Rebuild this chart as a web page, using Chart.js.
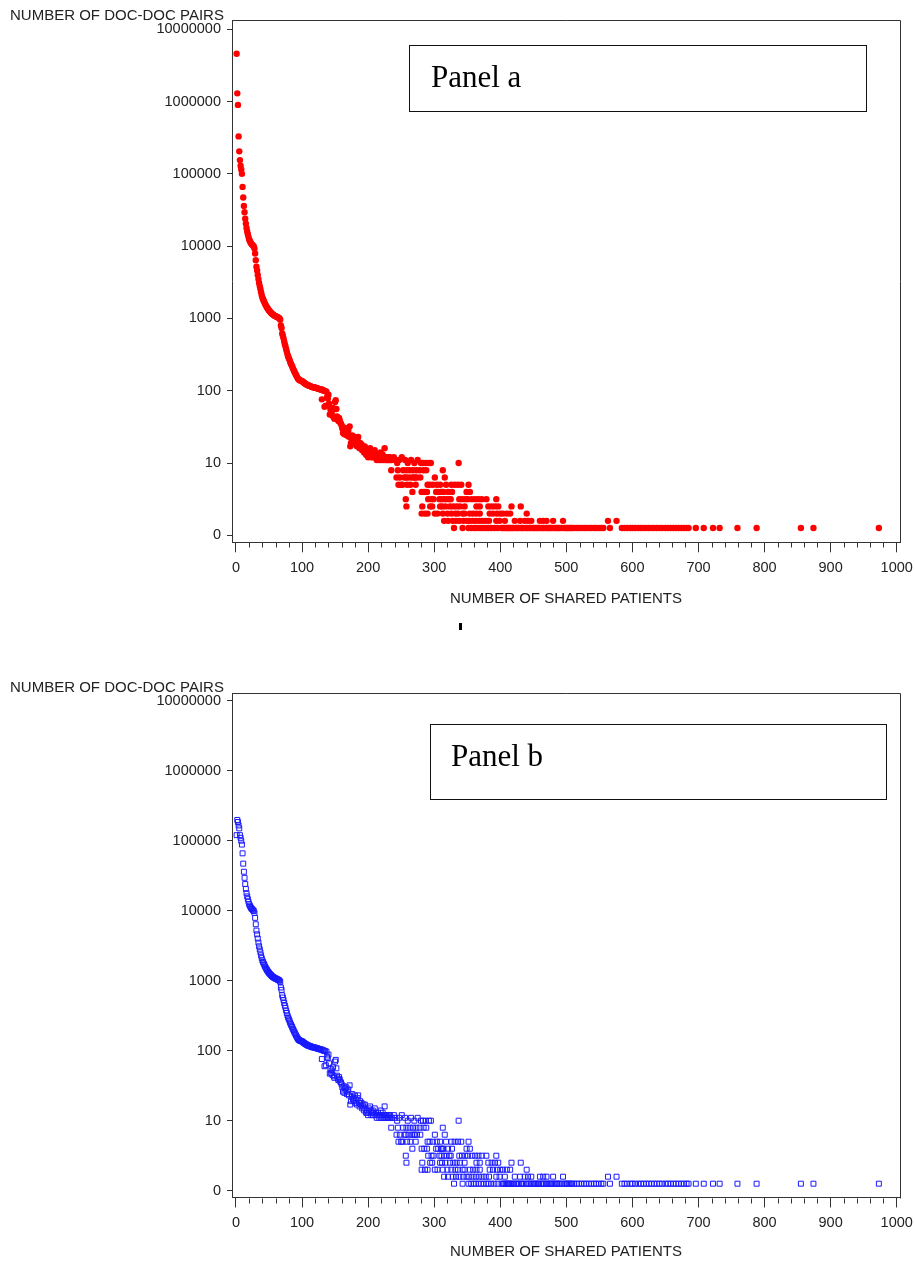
<!DOCTYPE html>
<html>
<head>
<meta charset="utf-8">
<script src="https://cdn.jsdelivr.net/npm/chart.js@4.4.1/dist/chart.umd.min.js"></script>
<style>
html,body{margin:0;padding:0;background:#fff;}
body{width:915px;height:1265px;position:relative;overflow:hidden;}
canvas{position:absolute;left:0;}
.box{position:absolute;border:1.5px solid #111;box-sizing:border-box;}
.lbl{position:absolute;font-family:"Liberation Serif","Times New Roman",serif;font-size:31px;line-height:31px;color:#000;white-space:nowrap;}
.mark{position:absolute;background:#000;}
</style>
</head>
<body>
<canvas id="chartA" width="915" height="612" style="top:0px"></canvas>
<canvas id="chartB" width="915" height="593" style="top:672px"></canvas>
<div class="box" style="left:409px;top:45px;width:458px;height:67px;"></div>
<div class="lbl" style="left:431px;top:61px;">Panel a</div>
<div class="box" style="left:430px;top:724px;width:457px;height:76px;"></div>
<div class="lbl" style="left:451px;top:740px;">Panel b</div>
<div class="mark" style="left:459px;top:623px;width:3px;height:7px;"></div>
<script>
// ---------------- data ----------------
const yAxisTitle = 'NUMBER OF DOC-DOC PAIRS';
const xAxisTitle = 'NUMBER OF SHARED PATIENTS';
const yTickLabels = ['0', '10', '100', '1000', '10000', '100000', '1000000', '10000000'];
const xTickValues = [0, 100, 200, 300, 400, 500, 600, 700, 800, 900, 1000];

// first shared-patient counts differ between the two panels
const headX = [1, 2, 3, 4, 5, 6, 7, 8, 9];
const headPairsA = [4600000, 1300000, 900000, 330000, 205000, 155000, 130000, 115000, 100000];
const headPairsB = [120000, 198000, 185000, 165000, 150000, 120000, 110000, 100000, 88000];

// main curve (shared by both panels)
const bodyX = [
  10, 11, 12, 13, 14, 15, 16, 17, 18, 19,
  20, 21, 22, 23, 24, 25, 26, 27, 28, 29,
  30, 31, 32, 33, 34, 35, 36, 37, 38, 39,
  40, 41, 42, 43, 44, 45, 46, 47, 48, 49,
  50, 51, 52, 53, 54, 55, 56, 57, 58, 59,
  60, 61, 62, 63, 64, 65, 66, 67, 68, 69,
  70, 71, 72, 73, 74, 75, 76, 77, 78, 79,
  80, 81, 82, 83, 84, 85, 86, 87, 88, 89,
  90, 91, 92, 93, 94, 95, 96, 97, 98, 99,
  100, 101, 102, 103, 104, 105, 106, 107, 108, 109,
  110, 111, 112, 113, 114, 115, 116, 117, 118, 119,
  120, 121, 122, 123, 124, 125, 126, 127, 128, 129,
  130, 131, 132, 133, 134, 135, 136, 137, 138, 139,
  140, 141, 142, 143, 144, 145, 146, 147, 148, 149,
  150, 151, 152, 153, 154, 155, 156, 157, 158, 159,
  160, 161, 162, 163, 164, 165, 166, 167, 168, 169,
  170, 171, 172, 173, 174, 175, 176, 177, 178, 179,
  180, 181, 182, 183, 184, 185, 186, 187, 188, 189,
  190, 191, 192, 193, 194, 195, 196, 197, 198, 199,
  200, 201, 202, 203, 204, 205, 206, 207, 208, 209,
  210, 211, 212, 213, 214, 215, 216, 217, 218, 219,
  220, 221, 222, 223, 224, 225, 226, 227, 228, 229,
  230, 231, 232, 233, 234
];
const bodyPairs = [
  66000, 47000, 36000, 29500, 24000, 20500, 17800, 16000, 14600, 13400,
  12400, 11800, 11300, 10900, 10600, 10400, 10100, 9900, 9300, 7900,
  6400, 5200, 4600, 4000, 3500, 3100, 2800, 2550, 2300, 2100,
  1950, 1850, 1760, 1680, 1600, 1530, 1470, 1420, 1370, 1330,
  1290, 1260, 1230, 1200, 1175, 1150, 1130, 1115, 1100, 1085,
  1075, 1065, 1050, 1040, 1030, 1015, 1000, 960, 800, 740,
  620, 575, 530, 480, 440, 410, 375, 345, 318, 298,
  282, 268, 252, 238, 228, 218, 206, 197, 188, 180,
  172, 165, 158, 152, 147, 143, 141, 139, 138, 137,
  136, 133, 131, 129, 127, 125, 123, 122, 120, 119,
  118, 117, 116, 115, 114, 113, 112, 112, 111, 111,
  110, 109, 109, 108, 107, 106, 106, 105, 104, 104,
  76, 103, 101, 100, 60, 99, 62, 97, 82, 78,
  88, 66, 47, 55, 48, 52, 45, 58, 43, 41,
  70, 74, 56, 44, 40, 38, 42, 39, 36, 35,
  33, 30, 26, 31, 25, 29, 27, 30, 24, 26,
  28, 23, 32, 17, 19, 22, 24, 20, 21, 19,
  23, 18, 20, 17, 21, 23, 18, 16, 19, 17,
  18, 15, 16, 17, 14, 17, 15, 13, 13, 14,
  12, 15, 13, 16, 14, 12, 13, 14, 12, 13,
  15, 12, 13, 11, 12, 13, 12, 11, 12, 14,
  11, 12, 13, 11, 12, 16, 11, 12, 11, 12,
  11, 12, 11, 12, 11
];
// band of 10-12 pairs
const bandX = [236, 239, 241, 244, 247, 251, 256, 260, 265, 270, 275, 280, 283, 287, 292, 295, 337];
const bandPairs = [11, 12, 11, 10, 11, 12, 11, 10, 11, 10, 11, 10, 10, 10, 10, 10, 10];

// tail: shared-patient counts observed with exactly N pairs
const pairs9X = [235, 245, 253, 258, 263, 268, 273, 278, 284, 288, 313];
const pairs8X = [243, 248, 255, 257, 261, 266, 269, 271, 274, 279, 301, 316];
const pairs7X = [246, 250, 252, 259, 264, 272, 290, 293, 298, 304, 309, 318, 326, 331, 336, 341, 352];
const pairs6X = [267, 281, 285, 289, 303, 306, 310, 312, 314, 321, 327, 349, 354];
const pairs5X = [257, 291, 296, 299, 308, 311, 315, 319, 323, 325, 338, 342, 347, 351, 357, 362, 367, 372, 379, 394];
const pairs4X = [258, 282, 294, 297, 309, 312, 317, 324, 329, 334, 339, 346, 364, 369, 382, 387, 392, 397, 417, 431];
const pairs3X = [281, 286, 290, 301, 305, 313, 320, 326, 332, 336, 343, 346, 354, 359, 364, 369, 384, 389, 395, 400, 404, 410, 415, 440];
const pairs2X = [315, 321, 328, 333, 338, 344, 349, 353, 358, 363, 368, 373, 378, 383, 394, 399, 407, 422, 430, 437, 442, 447, 460, 465, 470, 480, 495, 563, 576];
const pairs1X = [
  330, 343, 352, 356, 360, 363, 367, 371, 375, 379, 382, 386, 391, 396,
  402, 404, 406, 408, 410, 412, 413, 415, 417, 419, 421, 424, 426, 428, 431, 433, 435, 439,
  441, 444, 446, 449, 451, 453, 455, 457, 459, 462, 464, 466, 469, 471, 473, 475, 477, 479,
  482, 484, 486, 488, 490, 493, 497, 499, 501, 503, 505, 507, 509, 512, 516, 519, 523, 527,
  530, 534, 538, 542, 545, 549, 553, 556, 566,
  584, 588, 592, 597, 600, 604, 609, 613, 617, 621, 625, 629, 633, 637, 641, 645, 650, 654,
  658, 662, 666, 670, 674, 678, 682, 685,
  696, 708, 722, 732, 759, 788, 855, 874, 973
];

// ---------------- helpers ----------------
// SAS-style axis: linear from 0 to 10, logarithmic above
function toAxis(v) { return v <= 10 ? v / 10 : Math.log10(v); }

function buildPoints(headPairs) {
  const pts = [];
  headX.forEach((x, i) => pts.push({x: x, y: toAxis(headPairs[i])}));
  bodyX.forEach((x, i) => pts.push({x: x, y: toAxis(bodyPairs[i])}));
  bandX.forEach((x, i) => pts.push({x: x, y: toAxis(bandPairs[i])}));
  const rows = [[9, pairs9X], [8, pairs8X], [7, pairs7X], [6, pairs6X], [5, pairs5X],
                [4, pairs4X], [3, pairs3X], [2, pairs2X], [1, pairs1X]];
  rows.forEach(([n, xs]) => xs.forEach(x => pts.push({x: x, y: toAxis(n)})));
  return pts;
}

const FONT_FAMILY = '"Liberation Sans", Arial, sans-serif';
const TICK_FONT_SIZE = 14.5;
const TITLE_FONT_SIZE = 15;
const TEXT_COLOR = '#222';
const AXIS_COLOR = '#333';
const X_MINOR_STEP = 20;
const MINOR_LEN = 5;

const sasFrame = {
  id: 'sasFrame',
  afterDraw(chart, args, opts) {
    const {ctx, chartArea: a, scales: {x}} = chart;
    ctx.save();
    ctx.strokeStyle = AXIS_COLOR;
    ctx.lineWidth = 1;
    const l = Math.round(a.left) + 0.5, r = Math.round(a.right) + 0.5;
    const t = Math.round(a.top) + 0.5, b = Math.round(a.bottom) + 0.5;
    ctx.beginPath();
    ctx.moveTo(l - 0.5, t); ctx.lineTo(r, t); ctx.lineTo(r, b);
    ctx.stroke();
    ctx.beginPath();
    const first = xTickValues[0], last = xTickValues[xTickValues.length - 1];
    for (let v = first; v <= last; v += X_MINOR_STEP) {
      if (xTickValues.includes(v)) continue;
      const px = Math.round(x.getPixelForValue(v)) + 0.5;
      ctx.moveTo(px, b); ctx.lineTo(px, b + MINOR_LEN);
    }
    ctx.stroke();
    ctx.fillStyle = TEXT_COLOR;
    ctx.font = TITLE_FONT_SIZE + 'px ' + FONT_FAMILY;
    ctx.textBaseline = 'middle';
    ctx.textAlign = 'left';
    ctx.fillText(yAxisTitle, 10, opts.titleY);
    ctx.restore();
  }
};

function makeChart(id, points, dsStyle, cfg) {
  const tickFont = {family: FONT_FAMILY, size: TICK_FONT_SIZE};
  const titleFont = {family: FONT_FAMILY, size: TITLE_FONT_SIZE};
  return new Chart(document.getElementById(id), {
    type: 'scatter',
    data: {datasets: [Object.assign({data: points}, dsStyle)]},
    options: {
      responsive: false,
      animation: false,
      devicePixelRatio: 1,
      events: [],
      layout: {padding: {left: 0, right: 15, top: cfg.top, bottom: 0}},
      plugins: {legend: {display: false}, tooltip: {enabled: false}, sasFrame: {titleY: cfg.titleY}},
      scales: {
        x: {
          type: 'linear', min: -6, max: 1005,
          afterBuildTicks: s => { s.ticks = xTickValues.map(v => ({value: v})); },
          afterFit: s => { s.height = cfg.xHeight; s.paddingLeft = 0; s.paddingRight = 0; s.paddingTop = 0; s.paddingBottom = 0; },
          ticks: {font: tickFont, color: TEXT_COLOR, padding: 7, maxRotation: 0, autoSkip: false,
                  callback: v => String(v)},
          grid: {display: true, drawOnChartArea: false, drawTicks: true, tickLength: 10, tickColor: AXIS_COLOR, tickWidth: 1},
          border: {display: true, color: AXIS_COLOR, width: 1},
          title: {display: true, text: xAxisTitle, font: titleFont, color: TEXT_COLOR, padding: {top: 0, bottom: cfg.titlePad}}
        },
        y: {
          type: 'linear', min: cfg.yMin, max: cfg.yMax,
          afterBuildTicks: s => { s.ticks = yTickLabels.map(lb => ({value: toAxis(Number(lb))})); },
          afterFit: s => { s.width = 232; s.paddingLeft = 0; s.paddingRight = 0; s.paddingTop = 0; s.paddingBottom = 0; },
          ticks: {font: tickFont, color: TEXT_COLOR, padding: 6, autoSkip: false,
                  callback: (v, i) => yTickLabels[i]},
          grid: {display: true, drawOnChartArea: false, drawTicks: true, tickLength: 5, tickColor: AXIS_COLOR, tickWidth: 1},
          border: {display: true, color: AXIS_COLOR, width: 1}
        }
      }
    },
    plugins: [sasFrame]
  });
}

makeChart('chartA', buildPoints(headPairsA),
  {pointStyle: 'circle', pointRadius: 3.2, pointBackgroundColor: '#ff0000', pointBorderWidth: 0, showLine: false},
  {top: 20, xHeight: 69.7, titlePad: 4, yMin: -0.0969, yMax: 7.1287, titleY: 15.5});

makeChart('chartB', buildPoints(headPairsB),
  {pointStyle: 'rect', pointRadius: 3.5, pointBackgroundColor: 'rgba(0,0,0,0)', pointBorderColor: '#1a1aff', pointBorderWidth: 1, showLine: false},
  {top: 21.3, xHeight: 67.5, titlePad: 4.6, yMin: -0.0971, yMax: 7.1057, titleY: 15.5});
</script>
</body>
</html>
